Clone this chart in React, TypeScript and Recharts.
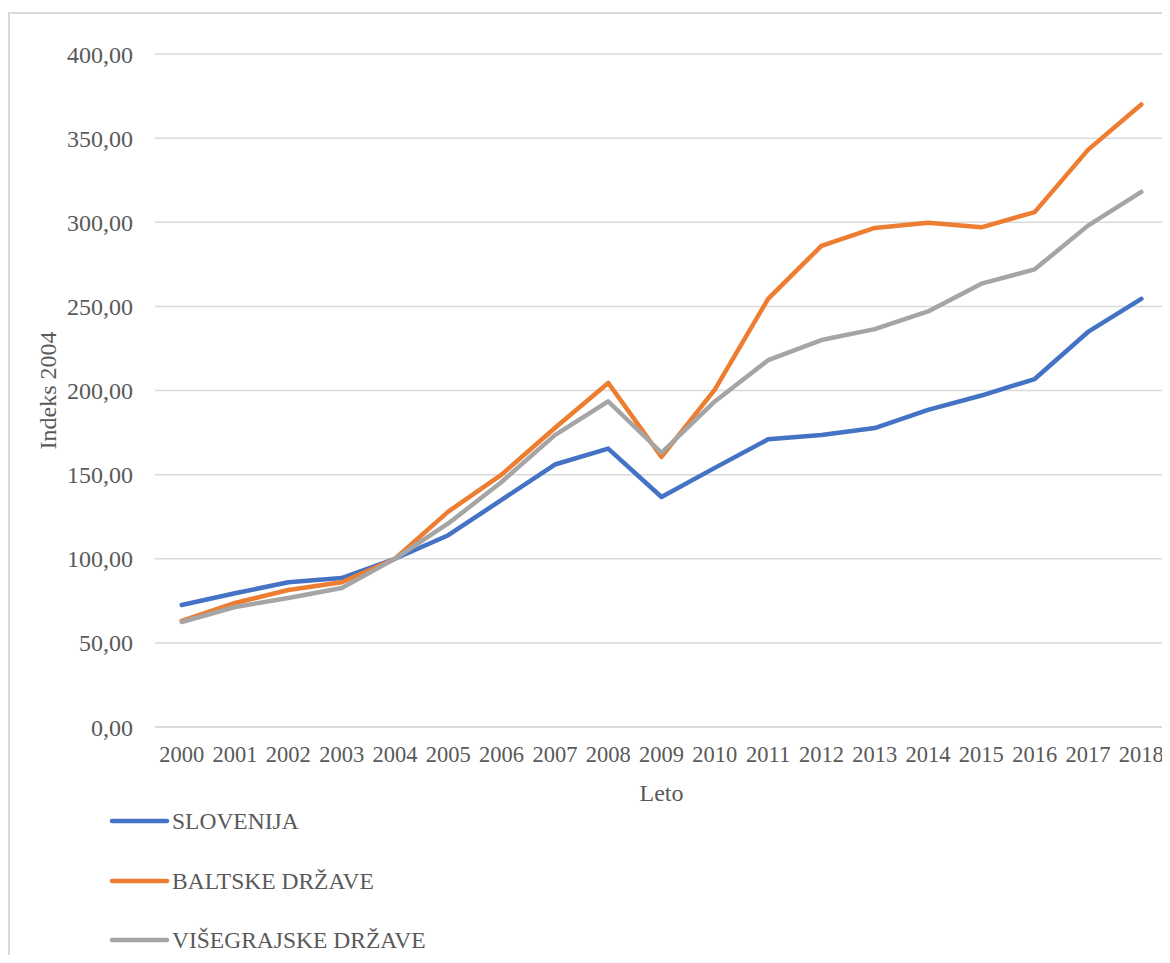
import React from 'react';
import { LineChart, Line, XAxis, YAxis, CartesianGrid } from 'recharts';

// podatki odčitani s slike (indeks 2004 = 100)
const years = [
  '2000', '2001', '2002', '2003', '2004', '2005', '2006', '2007', '2008', '2009',
  '2010', '2011', '2012', '2013', '2014', '2015', '2016', '2017', '2018',
];
const slovenija = [
  72.5, 79.5, 86, 88.5, 100, 114, 135, 156, 165.5, 136.7,
  154, 171, 173.5, 177.7, 188.5, 197, 206.8, 234.8, 254.5,
];
const baltske = [
  63, 73.7, 81.4, 86, 100, 128, 150, 177.7, 204.5, 160.5,
  200.5, 254.5, 286, 296.6, 299.7, 297, 306, 343, 370,
];
const visegrajske = [
  62.4, 71.3, 76.7, 82.6, 100, 121, 145.6, 173.5, 193.5, 163,
  193.5, 218, 230, 236.5, 247, 263.5, 272, 298, 318,
];
const yTicks = [0, 50, 100, 150, 200, 250, 300, 350, 400];

const seriesNames = ['SLOVENIJA', 'BALTSKE DRŽAVE', 'VIŠEGRAJSKE DRŽAVE'];
const seriesColors = ['#4472C4', '#ED7D31', '#A5A5A5'];
const seriesKeys = ['slo', 'balt', 'vis'];

const chartData = years.map((y, i) => ({
  year: y,
  slo: slovenija[i],
  balt: baltske[i],
  vis: visegrajske[i],
}));

const FONT = '"Liberation Serif", "Times New Roman", serif';
const TEXT = '#595959';

const formatY = (v: number) => v.toFixed(2).replace('.', ',');

const App: React.FC = () => {
  return (
    <div
      style={{
        position: 'relative',
        width: 1170,
        height: 963,
        margin: -8,
        overflow: 'hidden',
        background: '#fff',
        fontFamily: FONT,
      }}
    >
      {/* odrezan naslov na vrhu */}
      <svg style={{ position: 'absolute', left: 0, top: 0 }} width={1170} height={20}>
        <text x={268} y={1} textAnchor="middle" fontFamily={FONT} fontSize={20} fill="#000">
          (2004 = 100)
        </text>
      </svg>

      {/* okvir grafikona */}
      <div
        style={{
          position: 'absolute',
          left: 8,
          top: 12,
          width: 1200,
          height: 1000,
          border: '2px solid #d9d9d9',
        }}
      />

      <div style={{ position: 'absolute', left: 0, top: 0 }}>
        <LineChart
          width={1170}
          height={830}
          data={chartData}
          margin={{ top: 54, right: 2, bottom: 0, left: 0 }}
        >
          <CartesianGrid vertical={false} stroke="#d9d9d9" strokeWidth={1.5} />
          <XAxis
            dataKey="year"
            interval={0}
            height={103}
            padding={{ left: 26.7, right: 26.7 }}
            tickLine={false}
            axisLine={{ stroke: '#d9d9d9', strokeWidth: 1.5 }}
            tickMargin={13}
            tick={{ fill: TEXT, fontSize: 22.5, fontFamily: FONT }}
            label={{
              value: 'Leto',
              position: 'insideBottom',
              offset: 29,
              fill: TEXT,
              fontSize: 24,
              fontFamily: FONT,
            }}
          />
          <YAxis
            width={155}
            domain={[0, 400]}
            ticks={yTicks}
            interval={0}
            tickFormatter={formatY}
            tickLine={false}
            axisLine={false}
            tickMargin={16}
            tick={{ fill: TEXT, fontSize: 24, fontFamily: FONT }}
            label={{
              value: 'Indeks 2004',
              angle: -90,
              position: 'insideLeft',
              offset: 47,
              fill: TEXT,
              fontSize: 24,
              fontFamily: FONT,
              style: { textAnchor: 'middle' },
            }}
          />
          {seriesKeys.map((k, i) => (
            <Line
              key={k}
              type="linear"
              dataKey={k}
              name={seriesNames[i]}
              stroke={seriesColors[i]}
              strokeWidth={4.5}
              strokeLinecap="round"
              strokeLinejoin="round"
              dot={false}
              activeDot={false}
              isAnimationActive={false}
            />
          ))}
        </LineChart>
      </div>

      {/* legenda */}
      {seriesNames.map((name, i) => (
        <div
          key={name}
          style={{
            position: 'absolute',
            left: 108,
            top: 821 + i * 59.5 - 15,
            height: 30,
            display: 'flex',
            alignItems: 'center',
          }}
        >
          <svg width={62} height={30}>
            <line
              x1={4}
              y1={15}
              x2={59}
              y2={15}
              stroke={seriesColors[i]}
              strokeWidth={4.5}
              strokeLinecap="round"
            />
          </svg>
          <span style={{ fontSize: 23.5, color: TEXT, lineHeight: '30px', marginLeft: 2 }}>{name}</span>
        </div>
      ))}
    </div>
  );
};

export default App;
